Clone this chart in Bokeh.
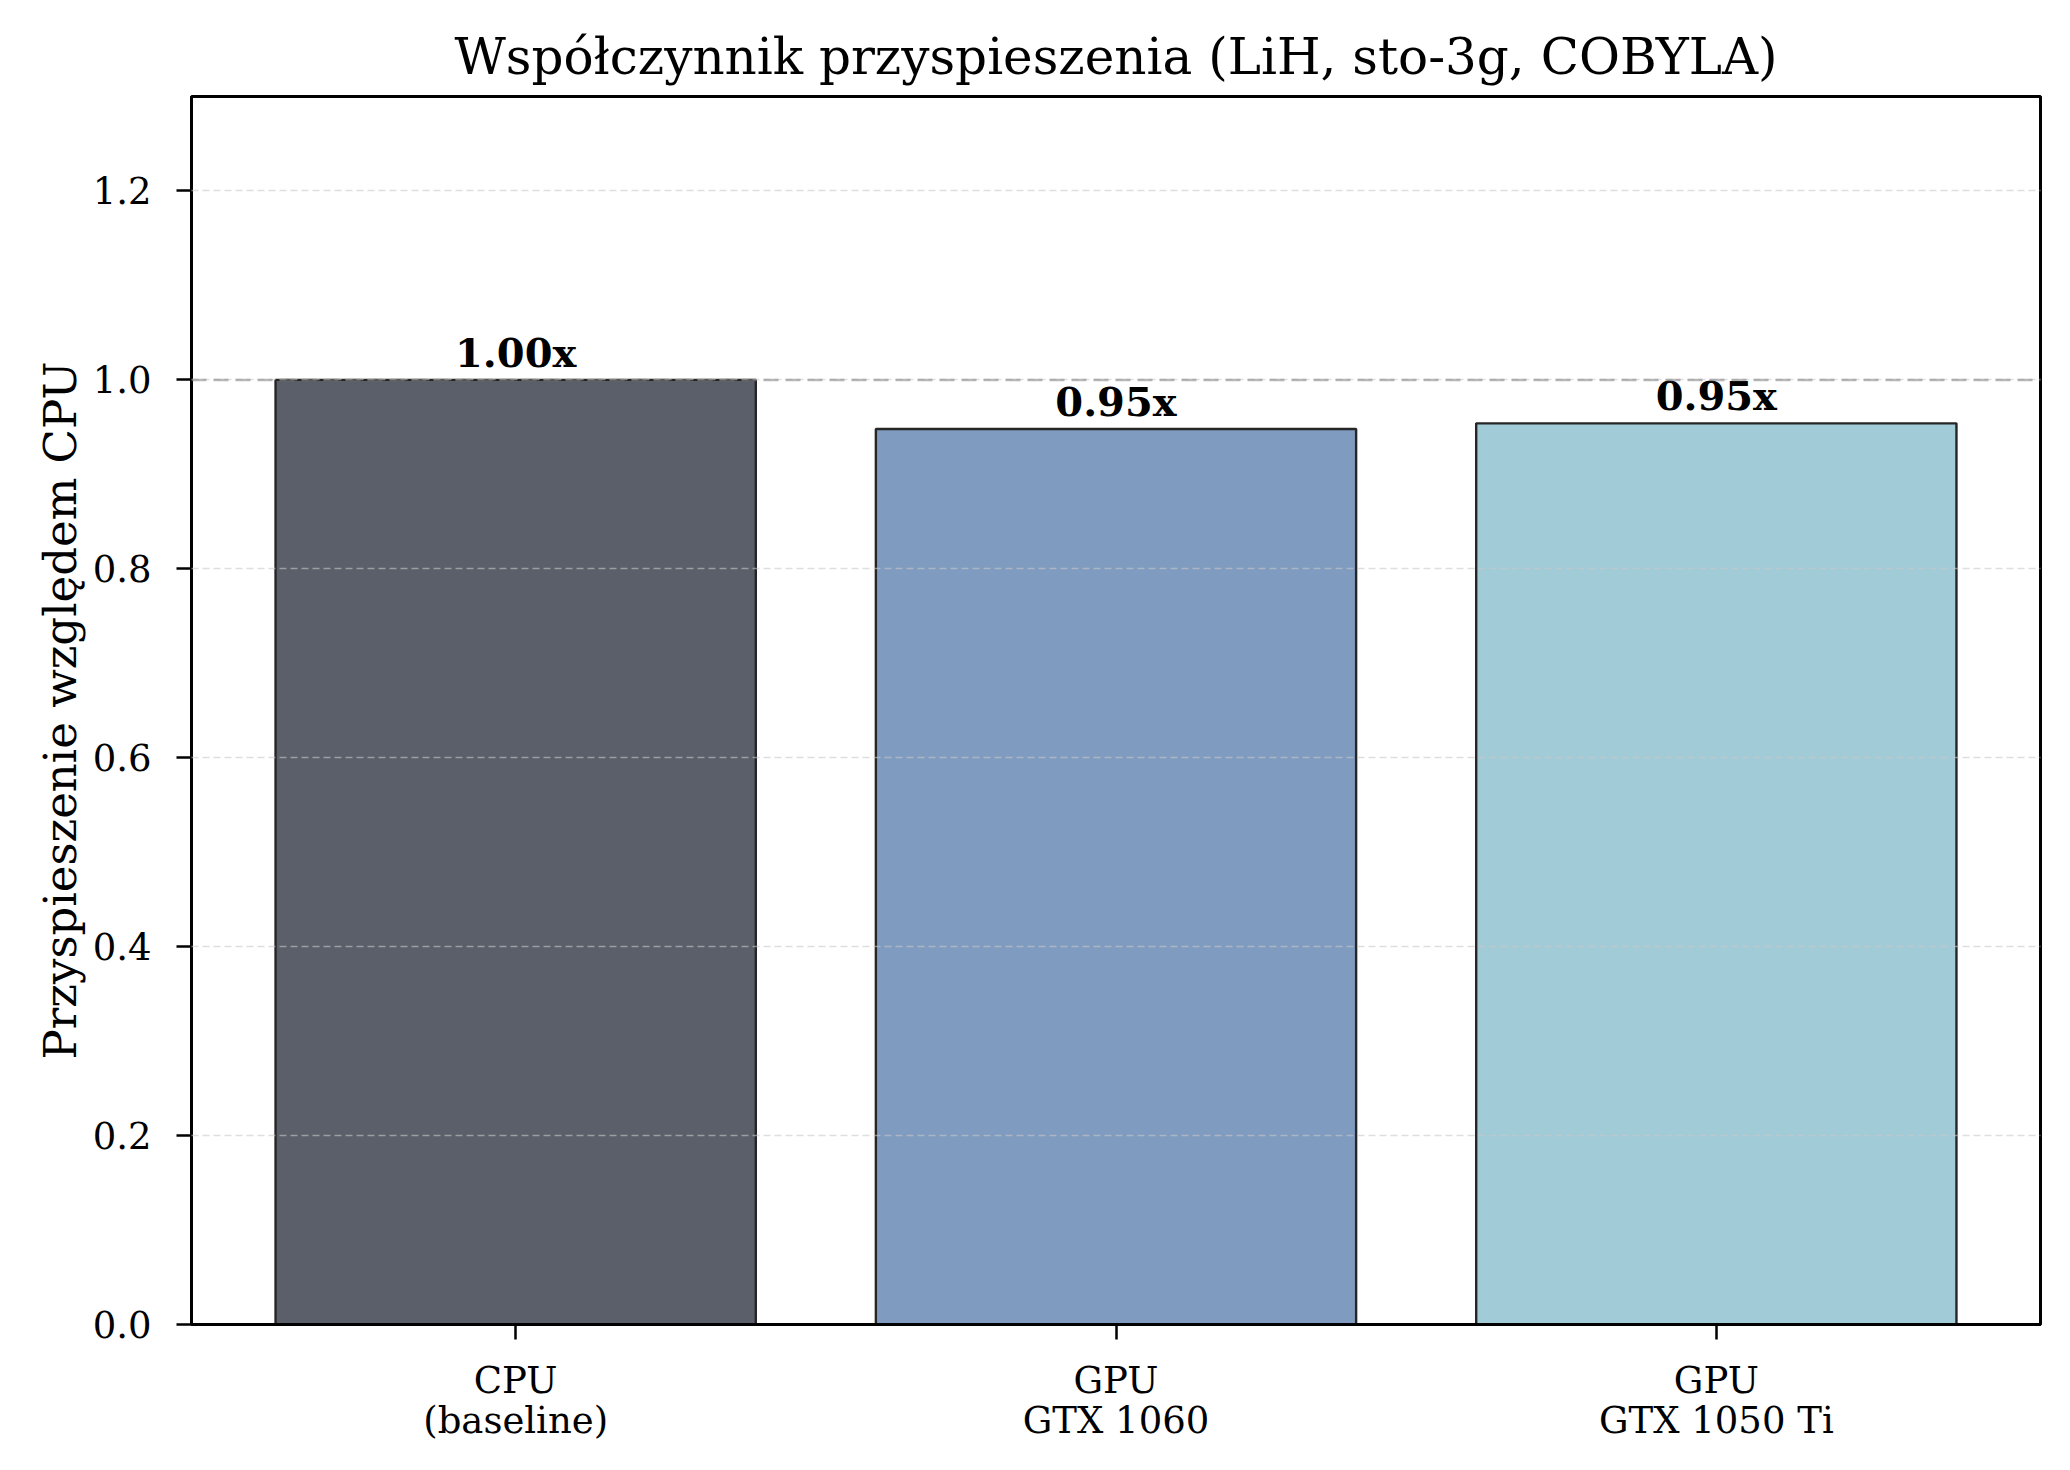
from bokeh.plotting import figure
from bokeh.models import ColumnDataSource, Range1d, FixedTicker, PrintfTickFormatter, Span
from bokeh.core.properties import value
from bokeh.embed import file_html
from bokeh.resources import INLINE

# ---- data ----
categories = ["CPU\n(baseline)", "GPU\nGTX 1060", "GPU\nGTX 1050 Ti"]
speedups = [1.00, 0.948, 0.954]
bar_colors = ["#5a5f69", "#7f9bbf", "#a2cbd8"]
y_ticks = [0.0, 0.2, 0.4, 0.6, 0.8, 1.0, 1.2]
title_text = "Współczynnik przyspieszenia (LiH, sto-3g, COBYLA)"
y_label = "Przyspieszenie względem CPU"
baseline = 1.0

FONT = "DejaVu Serif"

xs = list(range(len(categories)))
labels = [f"{v:.2f}x" for v in speedups]
source = ColumnDataSource(dict(x=xs, top=speedups, color=bar_colors, label=labels))

p = figure(width=2054, height=1454, output_backend="svg", toolbar_location=None,
           x_range=Range1d(-0.54, 2.54), y_range=Range1d(0, 1.3),
           min_border_left=191, min_border_right=14, min_border_top=96, min_border_bottom=130)
p.background_fill_color = "white"
p.border_fill_color = "white"

p.title.text = title_text
p.title.text_font = FONT
p.title.text_font_size = "50px"
p.title.text_font_style = "normal"
p.title.align = "center"
p.title.text_color = "black"
p.title.standoff = 21

p.vbar(x="x", top="top", bottom=0, width=0.8, fill_color="color", fill_alpha=1.0,
       line_color="#262626", line_width=2.4, source=source)

p.text(x="x", y="top", text="label", source=source, text_font=value(FONT),
       text_font_style="bold", text_font_size="40px", text_align="center",
       text_baseline="bottom", text_color="black", y_offset=-4)

# grid (drawn above bars like matplotlib default)
p.xgrid.visible = False
p.ygrid.ticker = FixedTicker(ticks=y_ticks)
p.ygrid.grid_line_color = "#c8c8c8"
p.ygrid.grid_line_alpha = 0.6
p.ygrid.grid_line_dash = "7 4"
p.ygrid.grid_line_width = 1.5
p.ygrid.level = "guide"

p.add_layout(Span(location=baseline, dimension="width", line_color="#808080",
                  line_alpha=0.55, line_dash="15 7", line_width=2.5, level="annotation"))

p.outline_line_color = "black"
p.outline_line_width = 3
p.outline_line_alpha = 1.0

# y axis
p.yaxis.ticker = FixedTicker(ticks=y_ticks)
p.yaxis.formatter = PrintfTickFormatter(format="%.1f")
p.yaxis.axis_label = y_label
p.yaxis.axis_label_text_font = FONT
p.yaxis.axis_label_text_font_size = "45px"
p.yaxis.axis_label_text_font_style = "normal"
p.yaxis.axis_label_text_color = "black"
p.yaxis.axis_label_standoff = 3
p.yaxis.major_label_text_font = FONT
p.yaxis.major_label_text_font_size = "37px"
p.yaxis.major_label_standoff = 25

# x axis
p.xaxis.ticker = FixedTicker(ticks=xs)
p.xaxis.major_label_overrides = {i: c for i, c in zip(xs, categories)}
p.xaxis.major_label_text_font = FONT
p.xaxis.major_label_text_font_size = "37px"
p.xaxis.major_label_text_line_height = 0.95
p.xaxis.major_label_standoff = 19

for ax in (p.xaxis, p.yaxis):
    ax.axis_line_color = "black"
    ax.axis_line_width = 3
    ax.major_tick_line_color = "black"
    ax.major_tick_line_width = 2.5
    ax.major_tick_out = 15
    ax.major_tick_in = 0
    ax.minor_tick_line_color = None
    ax.major_label_text_color = "black"

open("out.html", "w").write(file_html(p, INLINE))
